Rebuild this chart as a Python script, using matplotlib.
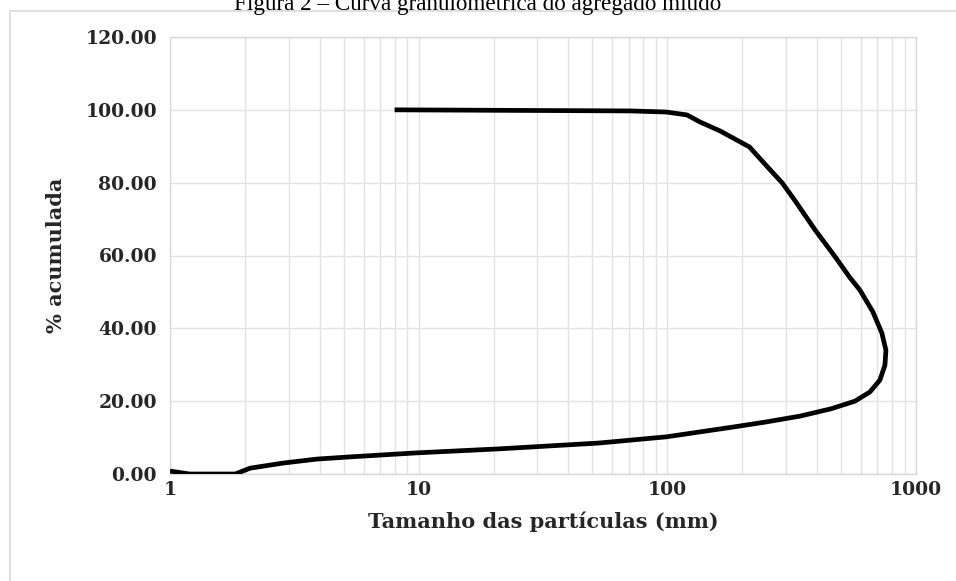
import matplotlib
matplotlib.use("Agg")
import matplotlib.pyplot as plt
from matplotlib.patches import Rectangle
from matplotlib.ticker import FixedLocator, NullFormatter, FixedFormatter

# Data (smoothed Excel scatter line)
tamanho = [1.0, 1.2, 1.83, 2.1, 2.85, 3.9, 5.3, 9.8, 21, 53, 99, 184, 250, 342,
           455, 568, 652, 716, 750, 757, 729, 671, 595, 540, 470, 393, 325, 290,
           253, 214, 163, 135, 120, 99, 71, 8.0]
acumulada = [0.8, 0.0, 0.0, 1.6, 3.0, 4.1, 4.7, 5.8, 6.9, 8.5, 10.2, 12.9, 14.3,
             15.9, 17.9, 20.0, 22.5, 25.8, 29.9, 34.0, 38.7, 44.5, 50.5, 54.1,
             59.9, 67.0, 75.2, 79.9, 84.3, 89.8, 94.2, 96.7, 98.6, 99.4, 99.7,
             100.0]

x_ticks = [1, 10, 100, 1000]
x_ticklabels = ["1", "10", "100", "1000"]
y_ticks = [0, 20, 40, 60, 80, 100, 120]
y_ticklabels = ["0.00", "20.00", "40.00", "60.00", "80.00", "100.00", "120.00"]

titulo = "Figura 2 – Curva granulométrica do agregado miúdo"
xlabel = "Tamanho das partículas (mm)"
ylabel = "% acumulada"

W, H = 956, 581
fig = plt.figure(figsize=(W / 100, H / 100), dpi=100)
ax = fig.add_axes([170 / W, (H - 474) / H, (916 - 170) / W, (474 - 37) / H])

grid_c = "#e3e3e3"
ax.set_xscale("log")
ax.set_xlim(1, 1000)
ax.set_ylim(0, 120)
ax.xaxis.set_major_locator(FixedLocator(x_ticks))
ax.xaxis.set_major_formatter(FixedFormatter(x_ticklabels))
minors = [m * 10 ** e for e in range(0, 3) for m in range(2, 10)]
ax.xaxis.set_minor_locator(FixedLocator(minors))
ax.xaxis.set_minor_formatter(NullFormatter())
ax.yaxis.set_major_locator(FixedLocator(y_ticks))
ax.yaxis.set_major_formatter(FixedFormatter(y_ticklabels))

ax.grid(which="major", color=grid_c, lw=1.0)
ax.grid(which="minor", axis="x", color=grid_c, lw=1.0)
for s in ax.spines.values():
    s.set_color("#d9d9d9")
    s.set_linewidth(1.0)
ax.tick_params(which="both", length=0)
ax.tick_params(axis="y", pad=9.4)
ax.tick_params(axis="x", pad=5)

for lab in ax.get_xticklabels() + ax.get_yticklabels():
    lab.set_fontfamily("DejaVu Serif")
    lab.set_fontsize(13.5)
    lab.set_fontweight("bold")
    lab.set_color("#262626")

ax.plot(tamanho, acumulada, color="black", lw=3.4, solid_capstyle="butt",
        solid_joinstyle="round", zorder=3)

ax.set_xlabel(xlabel, fontfamily="DejaVu Serif", fontsize=15, fontweight="bold",
              color="#262626")
ax.xaxis.set_label_coords(0.5, (474 - 511) / 437)
ax.set_ylabel(ylabel, fontfamily="DejaVu Serif", fontsize=15, fontweight="bold",
              color="#262626")
ax.yaxis.set_label_coords((66 - 170) / 746, 0.5)

# outer chart frame
fig.patches.append(Rectangle((10 / W, -0.05), 1.1, (H - 11) / H + 0.05,
                             transform=fig.transFigure, fill=False,
                             edgecolor="#d9d9d9", lw=1.2))

fig.text(0.5, 1 - 10 / H, titulo, ha="center", va="baseline",
         fontfamily="Liberation Serif", fontsize=16.7, color="black")

fig.savefig("out.png", dpi=100)
